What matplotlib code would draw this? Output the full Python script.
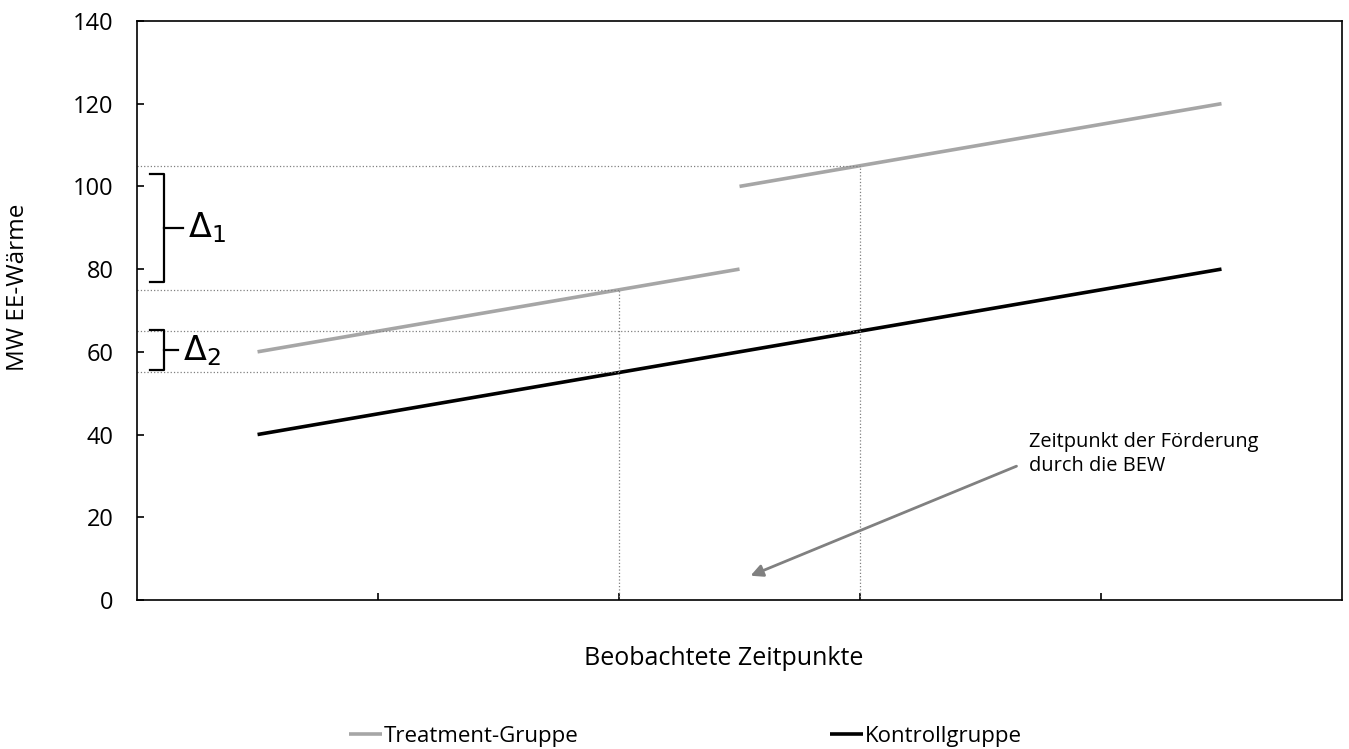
import matplotlib.pyplot as plt

# ============================================================
# Data
# ============================================================

zeitpunkte = [1, 2, 3, 4, 5]
treatment_vor_x = [1, 2, 3]
treatment_vor = [60, 70, 80]
treatment_nach_x = [3, 4, 5]
treatment_nach = [100, 110, 120]
kontroll = [40, 50, 60, 70, 80]

# reference points (dotted helper lines)
ref_x = [2.5, 3.5]
ref_treatment = [75, 105]
ref_kontroll = [55, 65]

# brace ranges for the deltas
delta1_range = (77, 103)
delta2_range = (55.5, 65.3)

GRAU = "#A6A6A6"
PFEIL = "#808080"

plt.rcParams.update({
    "font.family": ["Open Sans", "DejaVu Sans"],
    "font.size": 14,
})

fig = plt.figure(figsize=(13.49, 7.49), dpi=100)
ax = fig.add_axes([0.1016, 0.199, 0.8932, 0.773])

# ============================================================
# Lines
# ============================================================

ax.plot(treatment_vor_x, treatment_vor, color=GRAU, linewidth=2.6,
        solid_capstyle="butt", label="Treatment-Gruppe")
ax.plot(treatment_nach_x, treatment_nach, color=GRAU, linewidth=2.6,
        solid_capstyle="butt")
ax.plot(zeitpunkte, kontroll, color="black", linewidth=2.6,
        solid_capstyle="butt", label="Kontrollgruppe")

# dotted helper lines
for xr, yt, yk in zip(ref_x, ref_treatment, ref_kontroll):
    ax.plot([xr, xr], [0, yt], color=PFEIL, linestyle=":", linewidth=0.9)
    ax.plot([0.5, xr], [yt, yt], color=PFEIL, linestyle=":", linewidth=0.9)
    ax.plot([0.5, xr], [yk, yk], color=PFEIL, linestyle=":", linewidth=0.9)


# braces
def klammer(y0, y1, x_tip=0.555, x_bar=0.61, x_mid=0.69):
    ym = (y0 + y1) / 2
    ax.plot([x_tip, x_bar, x_bar, x_tip], [y0, y0, y1, y1],
            color="black", linewidth=1.6, solid_joinstyle="round")
    ax.plot([x_bar, x_mid], [ym, ym], color="black", linewidth=1.6)
    return ym


ym1 = klammer(*delta1_range)
ax.text(0.71, ym1, r"$\Delta_1$", fontsize=24, va="center", ha="left",
        family="DejaVu Sans")
ym2 = klammer(*delta2_range, x_mid=0.67)
ax.text(0.69, ym2, r"$\Delta_2$", fontsize=24, va="center", ha="left",
        family="DejaVu Sans")

# annotation with arrow
ax.annotate("", xy=(3.035, 5.6), xytext=(4.16, 32.6),
            arrowprops=dict(arrowstyle="-|>", color=PFEIL, linewidth=2,
                            mutation_scale=18))
ax.text(4.2, 40.5, "Zeitpunkt der Förderung\ndurch die BEW", fontsize=14.4,
        va="top", ha="left", linespacing=1.25)

# ============================================================
# Axes
# ============================================================

ax.set_xlim(0.5, 5.5)
ax.set_ylim(0, 140)
ax.set_xticks([1.5, 2.5, 3.5, 4.5])
ax.set_xticklabels([])
ax.set_yticks(range(0, 141, 20))
ax.tick_params(axis="both", direction="in", length=5, width=1.2,
               labelsize=17)
ax.tick_params(axis="y", pad=17)
for s in ax.spines.values():
    s.set_linewidth(1.2)

ax.set_xlabel("Beobachtete Zeitpunkte", fontsize=18)
ax.xaxis.set_label_coords(0.487, -0.08)
ax.set_ylabel("MW EE-Wärme", fontsize=17.5)
ax.yaxis.set_label_coords(-0.089, 0.54)

fig.legend(loc="lower center", bbox_to_anchor=(0.508, -0.024), ncol=2,
           frameon=False, fontsize=16, handlelength=1.5,
           handletextpad=0.08, columnspacing=11.3)

fig.savefig("out.png", dpi=100, facecolor="white")
